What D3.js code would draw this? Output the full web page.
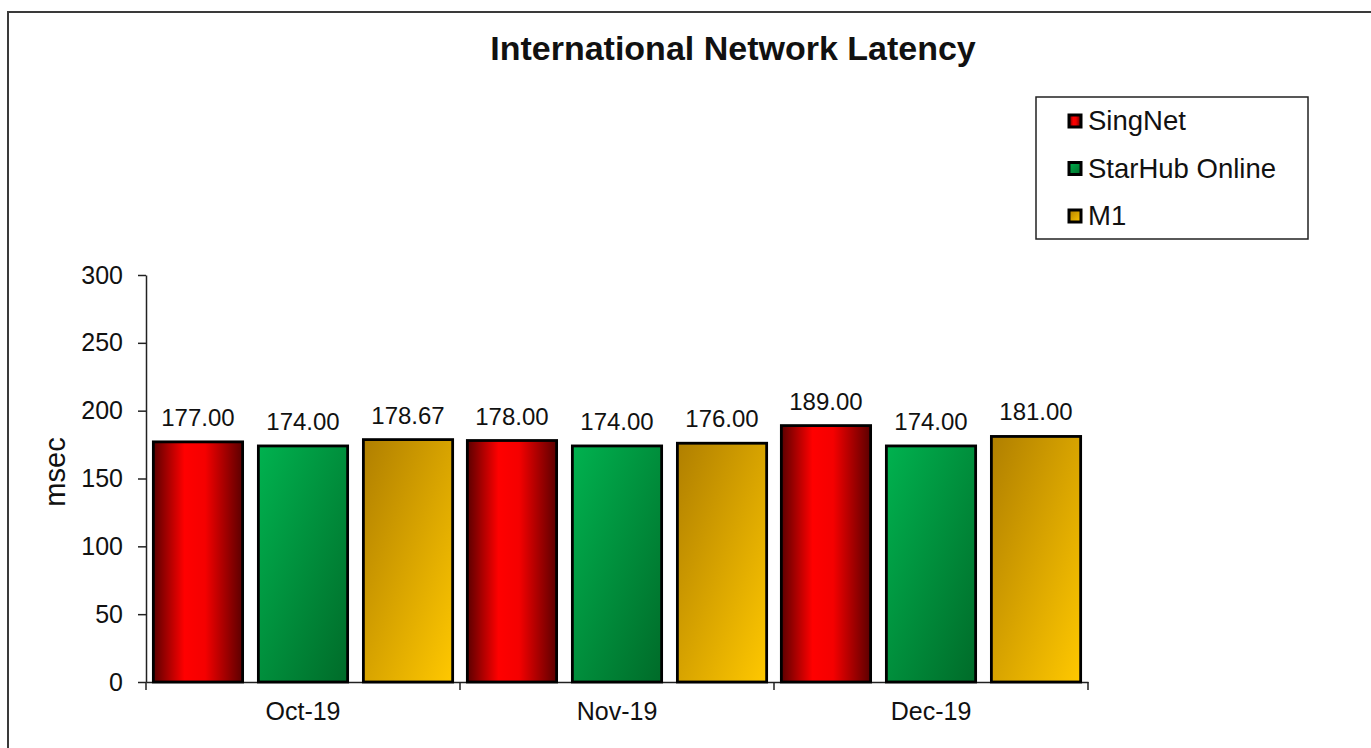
<html>
<head>
    <title>International Network Latency</title>
    <script src="https://cdn.jsdelivr.net/npm/d3@7"></script>
    <style type="text/css">
        body {
            margin: 0;
            background: #fff;
        }
        text {
            font-family: "Liberation Sans", Arial, sans-serif;
            fill: #111;
        }
        .axis path,
        .axis line {
            fill: none;
            stroke: #222;
            stroke-width: 1.5;
        }
        .axis text {
            font-size: 25px;
            fill: #111;
        }
    </style>
</head>
<body>
<div id="chart"></div>
<script type="text/javascript">
    var months = ["Oct-19", "Nov-19", "Dec-19"];
    var series = ["SingNet", "StarHub Online", "M1"];
    var singnet = [177.00, 178.00, 189.00];
    var starhub = [174.00, 174.00, 174.00];
    var m1 = [178.67, 176.00, 181.00];
    var yTicks = [0, 50, 100, 150, 200, 250, 300];

    var values = [singnet, starhub, m1];
    var w = 1371;
    var h = 748;

    var svg = d3.select("#chart")
        .append("svg")
        .attr("width", w)
        .attr("height", h);

    // gradients for the bars
    var defs = svg.append("defs");
    var red = defs.append("linearGradient").attr("id", "g0")
        .attr("x1", 0).attr("y1", 0).attr("x2", 1).attr("y2", 0);
    red.append("stop").attr("offset", "0%").attr("stop-color", "#5c0000");
    red.append("stop").attr("offset", "35%").attr("stop-color", "#ff0000");
    red.append("stop").attr("offset", "58%").attr("stop-color", "#f50000");
    red.append("stop").attr("offset", "100%").attr("stop-color", "#5c0000");

    var green = defs.append("linearGradient").attr("id", "g1")
        .attr("x1", 0).attr("y1", 0).attr("x2", 1).attr("y2", 1);
    green.append("stop").attr("offset", "0%").attr("stop-color", "#00b24f");
    green.append("stop").attr("offset", "100%").attr("stop-color", "#006b29");

    var gold = defs.append("linearGradient").attr("id", "g2")
        .attr("x1", 0).attr("y1", 0).attr("x2", 1).attr("y2", 1);
    gold.append("stop").attr("offset", "0%").attr("stop-color", "#b07f00");
    gold.append("stop").attr("offset", "100%").attr("stop-color", "#ffc800");

    // outer frame
    svg.append("rect")
        .attr("x", 8)
        .attr("y", 12)
        .attr("width", w + 20)
        .attr("height", h + 20)
        .attr("fill", "none")
        .attr("stroke", "#3a3a3a")
        .attr("stroke-width", 2);

    svg.append("text")
        .attr("x", 733)
        .attr("y", 60)
        .attr("text-anchor", "middle")
        .attr("font-size", "34px")
        .attr("font-weight", "bold")
        .text("International Network Latency");

    var x0 = d3.scaleBand()
        .domain(months)
        .range([146, 1088])
        .padding(0);

    var x1 = d3.scaleBand()
        .domain(series)
        .range([0, x0.bandwidth()])
        .paddingInner(0.15)
        .paddingOuter(0.07);

    var y = d3.scaleLinear()
        .domain([0, 300])
        .range([682, 275]);

    var yAxis = d3.axisLeft(y)
        .tickValues(yTicks)
        .tickSize(8)
        .tickSizeOuter(0)
        .tickPadding(15);

    svg.append("g")
        .attr("class", "y axis")
        .attr("transform", "translate(146,0)")
        .call(yAxis);

    var xAxis = d3.axisBottom(x0)
        .tickSize(0)
        .tickSizeOuter(0)
        .tickPadding(20);

    var gx = svg.append("g")
        .attr("class", "x axis")
        .attr("transform", "translate(0,682)")
        .call(xAxis);

    // tick marks at the category boundaries
    var bounds = months.map(function (m) { return x0(m); });
    bounds.push(x0(months[months.length - 1]) + x0.bandwidth());
    gx.selectAll(".bound")
        .data(bounds)
        .enter()
        .append("line")
        .attr("class", "bound")
        .attr("x1", function (d) { return d; })
        .attr("x2", function (d) { return d; })
        .attr("y1", 0)
        .attr("y2", 8);

    svg.append("text")
        .attr("transform", "translate(65,472) rotate(-90)")
        .attr("text-anchor", "middle")
        .attr("font-size", "29px")
        .text("msec");

    // bars
    var groups = svg.selectAll(".month")
        .data(months)
        .enter()
        .append("g")
        .attr("class", "month")
        .attr("transform", function (d) { return "translate(" + x0(d) + ",0)"; });

    groups.selectAll("rect")
        .data(function (d, i) {
            return series.map(function (s, j) {
                return { s: s, j: j, v: values[j][i] };
            });
        })
        .enter()
        .append("rect")
        .attr("x", function (d) { return x1(d.s); })
        .attr("y", function (d) { return y(d.v); })
        .attr("width", x1.bandwidth())
        .attr("height", function (d) { return y(0) - y(d.v); })
        .attr("fill", function (d) { return "url(#g" + d.j + ")"; })
        .attr("stroke", "#000")
        .attr("stroke-width", 2.8);

    groups.selectAll(".lbl")
        .data(function (d, i) {
            return series.map(function (s, j) {
                return { s: s, j: j, v: values[j][i] };
            });
        })
        .enter()
        .append("text")
        .attr("class", "lbl")
        .attr("x", function (d) { return x1(d.s) + x1.bandwidth() / 2; })
        .attr("y", function (d) { return y(d.v) - 16; })
        .attr("text-anchor", "middle")
        .attr("font-size", "24px")
        .text(function (d) { return d.v.toFixed(2); });

    // legend
    var legend = svg.append("g").attr("transform", "translate(1036,97)");
    legend.append("rect")
        .attr("width", 272)
        .attr("height", 142)
        .attr("fill", "#fff")
        .attr("stroke", "#222")
        .attr("stroke-width", 1.5);

    var items = legend.selectAll(".item")
        .data(series)
        .enter()
        .append("g")
        .attr("class", "item")
        .attr("transform", function (d, i) { return "translate(0," + (24 + i * 47.5) + ")"; });

    items.append("rect")
        .attr("x", 33)
        .attr("y", -6)
        .attr("width", 12)
        .attr("height", 12)
        .attr("fill", function (d, i) { return "url(#g" + i + ")"; })
        .attr("stroke", "#000")
        .attr("stroke-width", 3);

    items.append("text")
        .attr("x", 52)
        .attr("y", 9)
        .attr("font-size", "27.5px")
        .text(function (d) { return d; });
</script>
</body>
</html>
